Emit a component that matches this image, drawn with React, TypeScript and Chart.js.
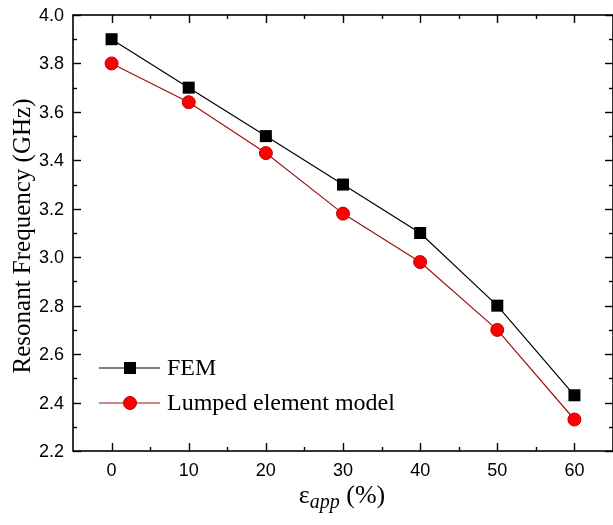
import React, { useEffect, useRef } from "react";
import { Chart, registerables } from "chart.js";

Chart.register(...registerables);

const xValues = [0, 10, 20, 30, 40, 50, 60];
const femValues = [3.9, 3.7, 3.5, 3.3, 3.1, 2.8, 2.43];
const lumpedValues = [3.8, 3.64, 3.43, 3.18, 2.98, 2.7, 2.33];
const xTickValues = [0, 10, 20, 30, 40, 50, 60];
const xMinorValues = [5, 15, 25, 35, 45, 55];
const yTickValues = [2.2, 2.4, 2.6, 2.8, 3.0, 3.2, 3.4, 3.6, 3.8, 4.0];
const yMinorValues = [2.3, 2.5, 2.7, 2.9, 3.1, 3.3, 3.5, 3.7, 3.9];
const seriesNames = ["FEM", "Lumped element model"];
const yTitle = "Resonant Frequency (GHz)";

const SANS = "'Liberation Sans', Arial, sans-serif";
const SERIF = "'Liberation Serif', 'Times New Roman', serif";

const framePlugin = {
  id: "originFrame",
  afterDraw(chart: any) {
    const { ctx, chartArea } = chart;
    const { left, right, top, bottom } = chartArea;
    const xs = chart.scales.x;
    const ys = chart.scales.y;
    ctx.save();
    ctx.strokeStyle = "#000";
    ctx.lineWidth = 1.6;
    ctx.strokeRect(left, top, right - left, bottom - top);
    ctx.lineWidth = 1.4;
    const tick = (x1: number, y1: number, x2: number, y2: number) => {
      ctx.beginPath();
      ctx.moveTo(x1, y1);
      ctx.lineTo(x2, y2);
      ctx.stroke();
    };
    const MAJ = 8, MIN = 4;
    xTickValues.forEach((v) => {
      const px = Math.round(xs.getPixelForValue(v)) + 0.5;
      tick(px, bottom, px, bottom - MAJ);
      tick(px, top, px, top + MAJ);
    });
    xMinorValues.forEach((v) => {
      const px = Math.round(xs.getPixelForValue(v)) + 0.5;
      tick(px, bottom, px, bottom - MIN);
      tick(px, top, px, top + MIN);
    });
    yTickValues.forEach((v) => {
      const py = Math.round(ys.getPixelForValue(v)) + 0.5;
      tick(left, py, left + MAJ, py);
      tick(right, py, right - MAJ, py);
    });
    yMinorValues.forEach((v) => {
      const py = Math.round(ys.getPixelForValue(v)) + 0.5;
      tick(left, py, left + MIN, py);
      tick(right, py, right - MIN, py);
    });

    // tick labels
    ctx.fillStyle = "#000";
    ctx.font = `18px ${SANS}`;
    ctx.textAlign = "center";
    ctx.textBaseline = "middle";
    xTickValues.forEach((v) => {
      ctx.fillText(String(v), xs.getPixelForValue(v), bottom + 20);
    });
    ctx.textAlign = "right";
    yTickValues.forEach((v) => {
      ctx.fillText(v.toFixed(1), left - 9, ys.getPixelForValue(v) + 1);
    });

    // y title
    ctx.save();
    ctx.translate(23, 236);
    ctx.rotate(-Math.PI / 2);
    ctx.font = `25px ${SERIF}`;
    ctx.textAlign = "center";
    ctx.textBaseline = "middle";
    ctx.fillText(yTitle, 0, 0);
    ctx.restore();

    // x title: epsilon with italic subscript "app" and " (%)"
    const mainFont = `26px ${SERIF}`;
    const subFont = `italic 20px ${SERIF}`;
    ctx.textAlign = "left";
    ctx.textBaseline = "alphabetic";
    ctx.font = mainFont;
    const wEps = ctx.measureText("\u03b5").width;
    const wTail = ctx.measureText(" (%)").width;
    ctx.font = subFont;
    const wSub = ctx.measureText("app").width;
    const total = wEps + wSub + wTail;
    let x0 = 342 - total / 2;
    const baseY = 503;
    ctx.font = mainFont;
    ctx.fillText("\u03b5", x0, baseY);
    x0 += wEps;
    ctx.font = subFont;
    ctx.fillText("app", x0, baseY + 5);
    x0 += wSub;
    ctx.font = mainFont;
    ctx.fillText(" (%)", x0, baseY);

    // legend
    const legendRows = [
      { y: 368, color: "#000", fill: "#000", border: "#000", style: "rect", r: 8.5, name: seriesNames[0] },
      { y: 403, color: "#a01010", fill: "#ff0000", border: "#c00000", style: "circle", r: 6.5, name: seriesNames[1] },
    ];
    legendRows.forEach((row) => {
      ctx.strokeStyle = row.color;
      ctx.lineWidth = 1.2;
      ctx.beginPath();
      ctx.moveTo(99, row.y);
      ctx.lineTo(160, row.y);
      ctx.stroke();
      ctx.fillStyle = row.fill;
      ctx.strokeStyle = row.border;
      ctx.lineWidth = 1;
      if (row.style === "rect") {
        const s = row.r * Math.SQRT1_2;
        ctx.fillRect(130 - s, row.y - s, 2 * s, 2 * s);
      } else {
        ctx.beginPath();
        ctx.arc(130, row.y, row.r, 0, Math.PI * 2);
        ctx.fill();
        ctx.stroke();
      }
      ctx.fillStyle = "#000";
      ctx.font = `24px ${SERIF}`;
      ctx.textAlign = "left";
      ctx.textBaseline = "middle";
      ctx.fillText(row.name, 167, row.y + 1);
    });
    ctx.restore();
  },
};

export default function App() {
  const canvasRef = useRef<HTMLCanvasElement | null>(null);

  useEffect(() => {
    if (!canvasRef.current) return;
    const chart = new Chart(canvasRef.current, {
      type: "line",
      data: {
        datasets: [
          {
            label: seriesNames[0],
            data: xValues.map((x, i) => ({ x, y: femValues[i] })),
            borderColor: "#000",
            backgroundColor: "#000",
            borderWidth: 1.2,
            pointStyle: "rect",
            pointRadius: 8.5,
            pointBorderWidth: 0,
            pointBackgroundColor: "#000",
            tension: 0,
          },
          {
            label: seriesNames[1],
            data: xValues.map((x, i) => ({ x, y: lumpedValues[i] })),
            borderColor: "#a01010",
            backgroundColor: "#ff0000",
            borderWidth: 1.2,
            pointStyle: "circle",
            pointRadius: 6.5,
            pointBorderWidth: 1,
            pointBorderColor: "#c00000",
            pointBackgroundColor: "#ff0000",
            tension: 0,
          },
        ],
      },
      options: {
        animation: false,
        responsive: false,
        maintainAspectRatio: false,
        layout: { autoPadding: false, padding: { left: 73, right: -1.5, top: 15, bottom: 74 } },
        plugins: { legend: { display: false }, tooltip: { enabled: false } },
        scales: {
          x: { type: "linear", min: -5, max: 65, display: false },
          y: { type: "linear", min: 2.2, max: 4.0, display: false },
        },
      },
      plugins: [framePlugin],
    });
    return () => chart.destroy();
  }, []);

  return (
    <div style={{ position: "fixed", left: 0, top: 0, width: 613, height: 525, background: "#fff" }}>
      <canvas ref={canvasRef} width={613} height={525} style={{ display: "block" }} />
    </div>
  );
}
